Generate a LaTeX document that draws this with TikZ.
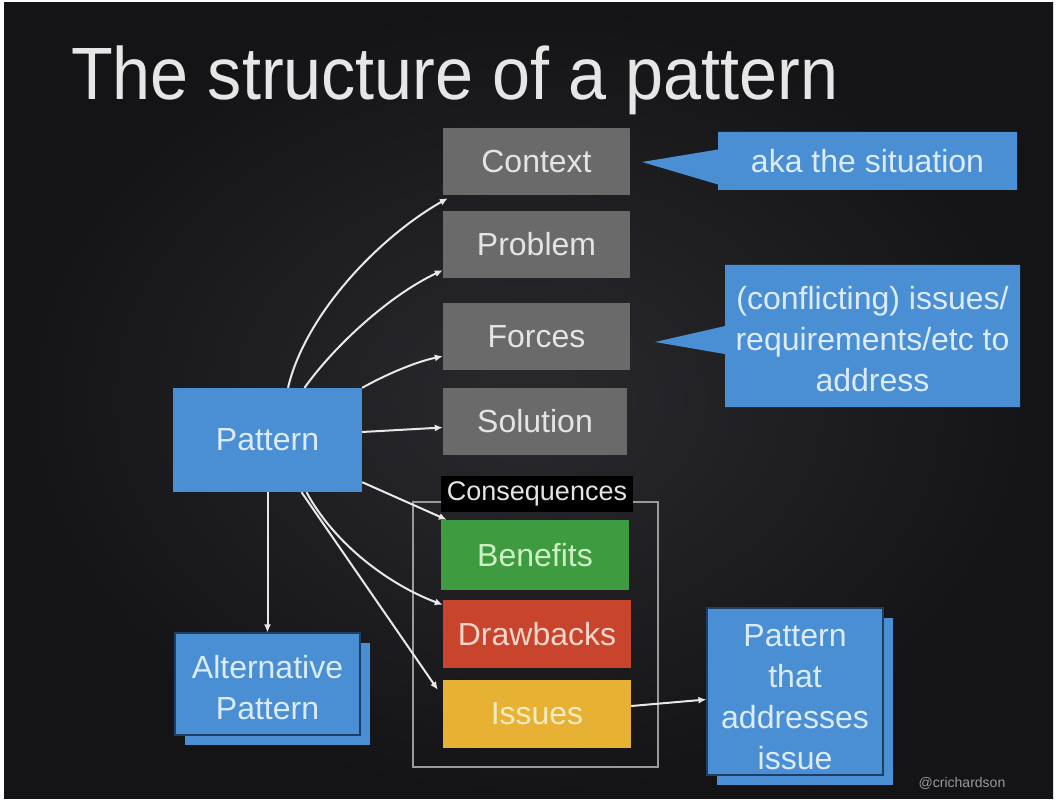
\documentclass[tikz,border=0pt]{standalone}
\usepackage{fontspec}
\setmainfont{Liberation Sans}
\usetikzlibrary{shapes.callouts,arrows.meta}
\definecolor{bgin}{HTML}{2A2A2E}
\definecolor{bgout}{HTML}{141316}
\definecolor{pblue}{HTML}{4A8FD3}
\definecolor{pbluedark}{HTML}{1E3F63}
\definecolor{bluetext}{HTML}{DCEBFA}
\definecolor{boxgray}{HTML}{6A6A6A}
\definecolor{graytext}{HTML}{E4E4E4}
\definecolor{bgreen}{HTML}{3F9B40}
\definecolor{greentext}{HTML}{CDEFC5}
\definecolor{bred}{HTML}{C9442C}
\definecolor{redtext}{HTML}{F6D5CB}
\definecolor{byellow}{HTML}{E7B133}
\definecolor{yellowtext}{HTML}{F7EBC0}
\definecolor{arrowc}{HTML}{E8E8E8}
\definecolor{framec}{HTML}{9A9A9A}
\definecolor{titlec}{HTML}{E6E6E6}
\begin{document}
\begin{tikzpicture}[x=1pt,y=-1pt,
  txt/.style={font=\fontsize{32}{41}\selectfont, align=center},
  box/.style={rectangle, inner sep=0pt, txt, minimum width=187pt, minimum height=67pt},
  graybox/.style={box, fill=boxgray, text=graytext},
  bluebox/.style={rectangle, inner sep=0pt, txt, fill=pblue, text=bluetext},
  frontbox/.style={bluebox, draw=pbluedark, line width=1.2pt},
  bluetxt/.style={inner sep=0pt, txt, text=bluetext},
  callbox/.style={rectangle callout, inner sep=0pt, txt, fill=pblue, text=bluetext},
  arr/.style={draw=arrowc, line width=2pt, -{Latex[length=8pt,width=7pt]}}
]
\useasboundingbox (0,0) rectangle (1057,802);
\fill[white] (0,0) rectangle (1057,802);
\shade[inner color=bgin, outer color=bgout] (4,3) rectangle (1053,798);

% title
\node[anchor=base west, inner sep=0pt, text=titlec, font=\fontsize{68}{80}\selectfont] (title) at (71,100) {\scalebox{1.005}[1.09]{The structure of a pattern}};

% right column
\node[graybox] (ctx) at (536.5,161.5) {Context};
\node[graybox] (prob) at (536.5,244.5) {Problem};
\node[graybox] (frc) at (536.5,336.5) {Forces};
\node[graybox, minimum width=184pt] (sol) at (535,421.5) {Solution};

\node[draw=framec, line width=1.3pt, minimum width=245pt, minimum height=265pt, inner sep=0pt] (frame) at (535.5,634.5) {};
\node[fill=black, inner sep=0pt, minimum width=192pt, minimum height=36pt, text=graytext, font=\fontsize{27}{32}\selectfont] (cons) at (537,494) {Consequences};

\node[box, fill=bgreen, text=greentext, minimum width=188pt, minimum height=70pt] (ben) at (535,555) {Benefits};
\node[box, fill=bred, text=redtext, minimum width=188pt, minimum height=68pt] (drw) at (537,634) {Drawbacks};
\node[box, fill=byellow, text=yellowtext, minimum width=188pt, minimum height=68pt] (iss) at (537,714) {Issues};

% pattern
\node[bluebox, minimum width=189pt, minimum height=104pt] (pat) at (267.5,440) {Pattern};

% alternative pattern (stacked)
\node[bluebox, minimum width=185pt, minimum height=102pt] (altb) at (277.5,694) {};
\node[frontbox, minimum width=185pt, minimum height=102pt] (alt) at (267.5,684) {};
\node[bluetxt] (alttxt) at (267.5,687.5) {Alternative\\Pattern};

% pattern that addresses issue (stacked)
\node[bluebox, minimum width=176pt, minimum height=167pt] (paib) at (805,701.5) {};
\node[frontbox, minimum width=176pt, minimum height=167pt] (pai) at (795,691.5) {};
\node[bluetxt] (paitxt) at (795,697) {Pattern\\that\\addresses\\issue};

% callouts
\node[callbox, minimum width=299pt, minimum height=58pt, callout absolute pointer={(642,162)}, callout pointer width=35pt] (aka) at (867.5,161) {aka the situation};
\node[callbox, minimum width=295pt, minimum height=142pt, callout absolute pointer={(655,342)}, callout pointer width=28pt] (conf) at (872.5,336) {};
\node[bluetxt] (conftxt) at (872.5,339) {(conflicting) issues/\\requirements/etc to\\address};

% connectors
\draw[arr] ([xshift=20.5pt]pat.north) .. controls (305,315) and (378,238) .. ([xshift=5pt,yshift=-3pt]ctx.south west);
\draw[arr] ([xshift=37pt]pat.north) .. controls (335,345) and (390,295) .. ([yshift=8pt]prob.south west);
\draw[arr] (pat.north east) .. controls (385,375) and (415,362) .. ([yshift=14pt]frc.south west);
\draw[arr] ([yshift=8pt]pat.east) -- ([yshift=-6pt]sol.west);
\draw[arr] ([yshift=10pt]pat.south east) -- ([xshift=6pt]ben.north west);
\draw[arr] ([xshift=39pt]pat.south) .. controls (335,545) and (390,585) .. ([yshift=-5pt]drw.north west);
\draw[arr] ([xshift=34pt]pat.south) -- ([xshift=-5pt,yshift=-10pt]iss.north west);
\draw[arr] (pat.south) -- (alt.north);
\draw[arr] ([yshift=8pt]iss.east) -- ([yshift=-8pt]pai.west);

% watermark
\node[text=framec, font=\fontsize{14}{16}\selectfont, inner sep=0pt] (wm) at (962,783) {@crichardson};
\end{tikzpicture}
\end{document}
